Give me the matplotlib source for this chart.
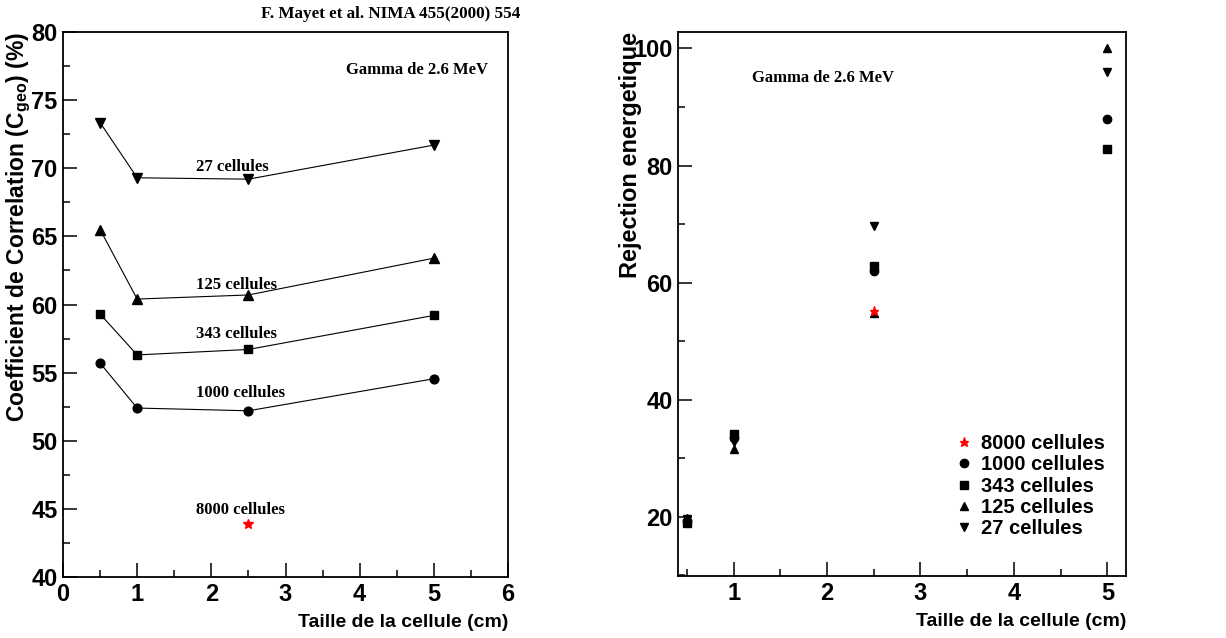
import matplotlib.pyplot as plt
from matplotlib.ticker import MultipleLocator

# cell size (cm)
taille = [0.5, 1, 2.5, 5]

# left panel: correlation coefficient (%)
cgeo_27 = [73.35, 69.3, 69.2, 71.7]
cgeo_125 = [65.5, 60.4, 60.7, 63.4]
cgeo_343 = [59.3, 56.3, 56.7, 59.2]
cgeo_1000 = [55.7, 52.4, 52.2, 54.55]
taille_8000 = [2.5]
cgeo_8000 = [43.9]

# right panel: energy rejection
rej_8000 = [55.2]
rej_1000 = [19.3, 33.5, 62.0, 88.0]
rej_343 = [19.0, 34.2, 62.8, 82.8]
rej_125 = [19.8, 31.6, 54.8, 100.0]
rej_27 = [19.6, 32.8, 69.6, 96.0]

labels_left = ['27 cellules', '125 cellules', '343 cellules', '1000 cellules', '8000 cellules']
label_pos = [(1.8, 70.1), (1.8, 61.4), (1.8, 57.8), (1.8, 53.5), (1.8, 44.9)]

sans = ['Liberation Sans Narrow', 'Liberation Sans', 'DejaVu Sans']
serif = ['Liberation Serif', 'DejaVu Serif']

plt.rcParams['mathtext.fontset'] = 'custom'
plt.rcParams['mathtext.rm'] = 'Liberation Sans:bold'
plt.rcParams['mathtext.bf'] = 'Liberation Sans:bold'

fig = plt.figure(figsize=(12.26, 6.38), dpi=100)
ax1 = fig.add_axes([63 / 1226, 1 - 577 / 638, 445 / 1226, 545 / 638])
ax2 = fig.add_axes([678 / 1226, 1 - 576 / 638, 448 / 1226, 544 / 638])

# ---- left panel
kw = dict(color='black', lw=0.8)
ax1.plot(taille, cgeo_27, marker='v', ms=6.8, **kw)
ax1.plot(taille, cgeo_125, marker='^', ms=6.8, **kw)
ax1.plot(taille, cgeo_343, marker='s', ms=6, **kw)
ax1.plot(taille, cgeo_1000, marker='o', ms=6.3, **kw)
ax1.plot(taille_8000, cgeo_8000, marker='*', ms=7, color='red', ls='none')

for txt, (x, y) in zip(labels_left, label_pos):
    ax1.text(x, y, txt, family=serif, weight='bold', fontsize=12, va='center', ha='left')

ax1.text(0.955, 0.93, 'Gamma de 2.6 MeV', transform=ax1.transAxes, family=serif,
         weight='bold', fontsize=12, ha='right', va='center')

ax1.set_xlim(0, 6)
ax1.set_ylim(40, 80)
ax1.xaxis.set_major_locator(MultipleLocator(1))
ax1.xaxis.set_minor_locator(MultipleLocator(0.5))
ax1.yaxis.set_major_locator(MultipleLocator(5))
ax1.yaxis.set_minor_locator(MultipleLocator(2.5))
ax1.set_xlabel('Taille de la cellule (cm)', family=sans, weight='bold', fontsize=14,
               ha='right', va='center')
ax1.xaxis.set_label_coords(1.0, -0.084)
ax1.set_ylabel('Coefficient de Correlation (C$_{\\mathrm{geo}}$) (%)', family=sans,
               weight='bold', fontsize=16.5, ha='right', va='center')
ax1.yaxis.set_label_coords(-0.1, 1.0)

# ---- right panel
ax2.plot(taille, rej_1000, 'o', ms=6, color='black', label='1000 cellules', zorder=3)
ax2.plot(taille, rej_343, 's', ms=5.5, color='black', label='343 cellules', zorder=3)
ax2.plot(taille, rej_125, '^', ms=5.8, color='black', label='125 cellules', zorder=3)
ax2.plot(taille, rej_27, 'v', ms=5.8, color='black', label='27 cellules', zorder=3)
ax2.plot(taille_8000, rej_8000, '*', ms=6.5, color='red', label='8000 cellules', zorder=4)

ax2.text(0.165, 0.915, 'Gamma de 2.6 MeV', transform=ax2.transAxes, family=serif,
         weight='bold', fontsize=12, ha='left', va='center')

h, l = ax2.get_legend_handles_labels()
order = [4, 0, 1, 2, 3]
leg = ax2.legend([h[i] for i in order], [l[i] for i in order], loc='upper left',
                 bbox_to_anchor=(0.603, 0.28), frameon=False, handlelength=0.6,
                 handletextpad=0.55, labelspacing=0.12, borderpad=0,
                 prop=dict(family=sans, weight='bold', size=14.5))

ax2.set_xlim(0.405, 5.2)
ax2.set_ylim(9.9, 102.8)
ax2.xaxis.set_major_locator(MultipleLocator(1))
ax2.xaxis.set_minor_locator(MultipleLocator(0.5))
ax2.yaxis.set_major_locator(MultipleLocator(20))
ax2.yaxis.set_minor_locator(MultipleLocator(10))
ax2.set_xlabel('Taille de la cellule (cm)', family=sans, weight='bold', fontsize=14,
               ha='right', va='center')
ax2.xaxis.set_label_coords(1.0, -0.084)
ax2.set_ylabel('Rejection energetique', family=sans, weight='bold', fontsize=17,
               ha='right', va='center')
ax2.yaxis.set_label_coords(-0.107, 1.0)

for ax in (ax1, ax2):
    for s in ax.spines.values():
        s.set_linewidth(1.3)
    ax.tick_params(which='both', direction='in', width=1.1, top=False, right=False)
    ax.tick_params(which='major', length=10, labelsize=17, pad=4)
    ax.tick_params(which='minor', length=5)
    for t in ax.get_xticklabels() + ax.get_yticklabels():
        t.set_family(sans)
        t.set_weight('bold')

fig.text(520 / 1226, 1 - 14 / 638, 'F. Mayet et al. NIMA 455(2000) 554', family=serif,
         weight='bold', fontsize=12.3, ha='right', va='center')

fig.savefig('out.png', dpi=100)
